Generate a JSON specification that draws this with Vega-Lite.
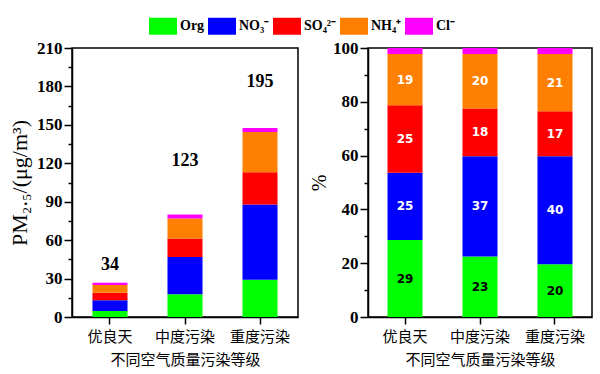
{
  "$schema": "https://vega.github.io/schema/vega-lite/v6.json",
  "padding": {"left": 7, "top": 12, "right": 2, "bottom": 0},
  "bounds": "flush",
  "spacing": 70,
  "background": "white",
  "datasets": {
    "abs": [
      {"cat": "优良天", "comp": "Org", "k": 1, "v": 4.7},
      {"cat": "优良天", "comp": "NO₃⁻", "k": 2, "v": 8.3},
      {"cat": "优良天", "comp": "SO₄²⁻", "k": 3, "v": 6.0},
      {"cat": "优良天", "comp": "NH₄⁺", "k": 4, "v": 5.9},
      {"cat": "优良天", "comp": "Cl⁻", "k": 5, "v": 1.9},
      {"cat": "中度污染", "comp": "Org", "k": 1, "v": 17.7},
      {"cat": "中度污染", "comp": "NO₃⁻", "k": 2, "v": 29.1},
      {"cat": "中度污染", "comp": "SO₄²⁻", "k": 3, "v": 14.5},
      {"cat": "中度污染", "comp": "NH₄⁺", "k": 4, "v": 15.6},
      {"cat": "中度污染", "comp": "Cl⁻", "k": 5, "v": 3.1},
      {"cat": "重度污染", "comp": "Org", "k": 1, "v": 29.1},
      {"cat": "重度污染", "comp": "NO₃⁻", "k": 2, "v": 58.7},
      {"cat": "重度污染", "comp": "SO₄²⁻", "k": 3, "v": 25.2},
      {"cat": "重度污染", "comp": "NH₄⁺", "k": 4, "v": 31.5},
      {"cat": "重度污染", "comp": "Cl⁻", "k": 5, "v": 3.1}
    ],
    "tot": [
      {"cat": "优良天", "total": 34, "ly": 40.5},
      {"cat": "中度污染", "total": 123, "ly": 122},
      {"cat": "重度污染", "total": 195, "ly": 183.5}
    ],
    "pct": [
      {"cat": "优良天", "comp": "Org", "k": 1, "p": 28.6, "lab": 29},
      {"cat": "优良天", "comp": "NO₃⁻", "k": 2, "p": 25.0, "lab": 25},
      {"cat": "优良天", "comp": "SO₄²⁻", "k": 3, "p": 25.1, "lab": 25},
      {"cat": "优良天", "comp": "NH₄⁺", "k": 4, "p": 19.1, "lab": 19},
      {"cat": "优良天", "comp": "Cl⁻", "k": 5, "p": 2.2, "lab": null},
      {"cat": "中度污染", "comp": "Org", "k": 1, "p": 22.5, "lab": 23},
      {"cat": "中度污染", "comp": "NO₃⁻", "k": 2, "p": 37.3, "lab": 37},
      {"cat": "中度污染", "comp": "SO₄²⁻", "k": 3, "p": 17.7, "lab": 18},
      {"cat": "中度污染", "comp": "NH₄⁺", "k": 4, "p": 20.3, "lab": 20},
      {"cat": "中度污染", "comp": "Cl⁻", "k": 5, "p": 2.2, "lab": null},
      {"cat": "重度污染", "comp": "Org", "k": 1, "p": 19.6, "lab": 20},
      {"cat": "重度污染", "comp": "NO₃⁻", "k": 2, "p": 40.2, "lab": 40},
      {"cat": "重度污染", "comp": "SO₄²⁻", "k": 3, "p": 16.7, "lab": 17},
      {"cat": "重度污染", "comp": "NH₄⁺", "k": 4, "p": 21.3, "lab": 21},
      {"cat": "重度污染", "comp": "Cl⁻", "k": 5, "p": 2.2, "lab": null}
    ]
  },
  "config": {
    "view": {"stroke": "black", "strokeWidth": 1.5},
    "axis": {
      "grid": false,
      "domainColor": "black",
      "domainWidth": 1.5,
      "tickColor": "black",
      "tickWidth": 1.5,
      "labelColor": "black",
      "titleColor": "black"
    }
  },
  "hconcat": [
    {
      "width": 226,
      "height": 269,
      "layer": [
        {
          "data": {"name": "abs"},
          "mark": {"type": "bar"},
          "encoding": {
            "x": {
              "field": "cat", "type": "nominal",
              "sort": ["优良天", "中度污染", "重度污染"],
              "scale": {"paddingInner": 0.533, "paddingOuter": 0.273},
              "title": "不同空气质量污染等级",
              "axis": {"labelAngle": 0, "labelFont": "Noto Sans CJK SC", "labelFontSize": 15, "labelPadding": 5, "tickSize": 7, "titleFont": "Noto Sans CJK SC", "titleFontSize": 15, "titleFontWeight": "normal", "titlePadding": 8}
            },
            "y": {
              "field": "v", "type": "quantitative", "stack": "zero",
              "scale": {"domain": [0, 210], "nice": false},
              "axis": {"values": [0, 30, 60, 90, 120, 150, 180, 210], "tickSize": 8, "labelFont": "Liberation Serif", "labelFontWeight": "bold", "labelFontSize": 17, "labelPadding": 2, "title": "PM₂.₅/(μg/m³)", "titleFont": "Liberation Serif", "titleFontSize": 22, "titleFontWeight": "normal", "titlePadding": 5}
            },
            "color": {
              "field": "comp", "type": "nominal",
              "scale": {"domain": ["Org", "NO₃⁻", "SO₄²⁻", "NH₄⁺", "Cl⁻"], "range": ["#00ff00", "#0000ff", "#ff0000", "#ff8000", "#ff00ff"]},
              "legend": {"orient": "none", "legendX": 77, "legendY": -36, "direction": "horizontal", "title": null, "symbolType": "M-1,-0.607H1V0.607H-1Z", "symbolSize": 784, "symbolStrokeWidth": 0, "symbolOpacity": 1, "labelFont": "Liberation Serif", "labelFontWeight": "bold", "labelFontSize": 14, "labelColor": "black", "labelOffset": 3, "columnPadding": 3}
            },
            "order": {"field": "k", "type": "quantitative"}
          }
        },
        {
          "data": {"name": "tot"},
          "mark": {"type": "text", "font": "Liberation Serif", "fontWeight": "bold", "fontSize": 18, "baseline": "middle", "color": "black"},
          "encoding": {
            "x": {"field": "cat", "type": "nominal", "sort": ["优良天", "中度污染", "重度污染"], "title": "不同空气质量污染等级"},
            "y": {"field": "ly", "type": "quantitative", "axis": {"orient": "left", "values": [15, 45, 75, 105, 135, 165, 195], "labels": false, "domain": false, "tickSize": 4, "title": null}},
            "text": {"field": "total"}
          }
        }
      ],
      "resolve": {"axis": {"y": "independent"}}
    },
    {
      "width": 224,
      "height": 269,
      "layer": [
        {
          "data": {"name": "pct"},
          "mark": {"type": "bar"},
          "encoding": {
            "x": {
              "field": "cat", "type": "nominal",
              "sort": ["优良天", "中度污染", "重度污染"],
              "scale": {"paddingInner": 0.533, "paddingOuter": 0.26},
              "title": "不同空气质量污染等级",
              "axis": {"labelAngle": 0, "labelFont": "Noto Sans CJK SC", "labelFontSize": 15, "labelPadding": 5, "tickSize": 7, "titleFont": "Noto Sans CJK SC", "titleFontSize": 15, "titleFontWeight": "normal", "titlePadding": 8}
            },
            "y": {
              "field": "p", "type": "quantitative", "stack": "zero",
              "scale": {"domain": [0, 100], "nice": false},
              "axis": {"values": [0, 20, 40, 60, 80, 100], "tickSize": 8, "labelFont": "Liberation Serif", "labelFontWeight": "bold", "labelFontSize": 17, "labelPadding": 2, "title": "%", "titleFont": "Liberation Serif", "titleFontSize": 20, "titleFontWeight": "normal", "titlePadding": 3}
            },
            "color": {"field": "comp", "type": "nominal"},
            "order": {"field": "k", "type": "quantitative"}
          }
        },
        {
          "data": {"name": "pct"},
          "transform": [
            {"stack": "p", "groupby": ["cat"], "sort": [{"field": "k"}], "as": ["p0", "p1"]},
            {"filter": "datum.lab != null"},
            {"calculate": "(datum.p0 + datum.p1) / 2", "as": "pmid"}
          ],
          "mark": {"type": "text", "font": "DejaVu Sans", "fontWeight": "bold", "fontSize": 12, "baseline": "middle"},
          "encoding": {
            "x": {"field": "cat", "type": "nominal", "sort": ["优良天", "中度污染", "重度污染"], "title": "不同空气质量污染等级"},
            "y": {"field": "pmid", "type": "quantitative", "axis": {"orient": "left", "values": [10, 30, 50, 70, 90], "labels": false, "domain": false, "tickSize": 4, "title": null}},
            "text": {"field": "lab"},
            "color": {"condition": {"test": "datum.comp === 'Org'", "value": "black"}, "value": "white"}
          }
        }
      ],
      "resolve": {"axis": {"y": "independent"}}
    }
  ]
}
